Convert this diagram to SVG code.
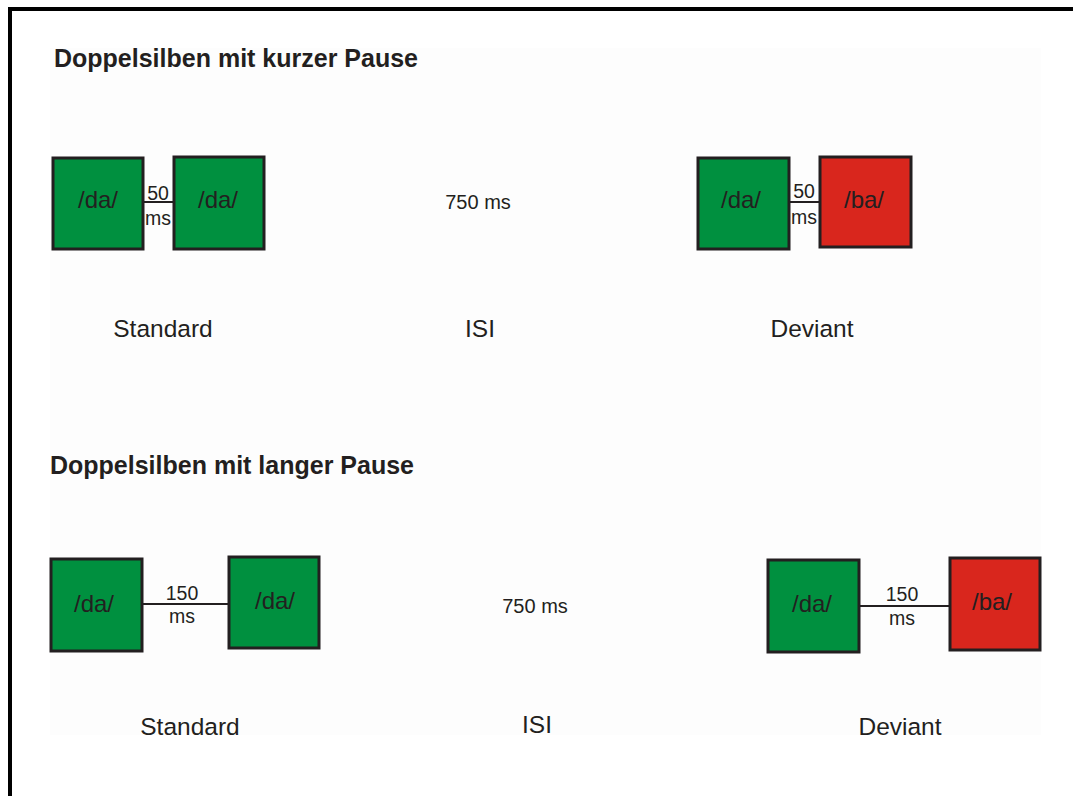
<svg xmlns="http://www.w3.org/2000/svg" width="1073" height="796" viewBox="0 0 1073 796">
  <style>
    .title { font-family: "Liberation Sans", Arial, sans-serif; font-weight: bold; font-size: 25px; fill: #231f20; }
    .syl { font-family: "Liberation Sans", Arial, sans-serif; font-size: 24px; fill: #231f20; text-anchor: middle; }
    .gap { font-family: "Liberation Sans", Arial, sans-serif; font-size: 19.5px; fill: #231f20; text-anchor: middle; }
    .isi { font-family: "Liberation Sans", Arial, sans-serif; font-size: 20px; fill: #231f20; text-anchor: middle; }
    .lab { font-family: "Liberation Sans", Arial, sans-serif; font-size: 24.5px; fill: #231f20; text-anchor: middle; }
    .std { fill: #00903f; stroke: #231f20; stroke-width: 3; }
    .dev { fill: #d9261d; stroke: #231f20; stroke-width: 3; }
    .conn { stroke: #231f20; stroke-width: 2; fill: none; }
  </style>

  <rect x="0" y="0" width="1073" height="796" fill="#ffffff"/>
  <!-- outer frame, running off the right and bottom edges -->
  <rect x="10" y="9" width="1100" height="900" fill="none" stroke="#000000" stroke-width="4"/>
  <!-- faint content panel -->
  <rect x="50" y="48" width="991" height="687" fill="#fdfdfd"/>

  <!-- headings -->
  <text class="title" x="54" y="67">Doppelsilben mit kurzer Pause</text>
  <text class="title" x="50" y="474">Doppelsilben mit langer Pause</text>

  <!-- connectors -->
  <g id="connectors">
    <line class="conn" x1="143" y1="202" x2="173" y2="202"/>
    <line class="conn" x1="789" y1="202" x2="819" y2="202"/>
    <line class="conn" x1="142" y1="604" x2="228" y2="604"/>
    <line class="conn" x1="859" y1="606" x2="949" y2="606"/>
  </g>

  <!-- short pause row -->
  <g id="short-standard-1">
    <rect class="std" x="53" y="158" width="90" height="91"/>
    <text class="syl" x="98" y="208">/da/</text>
  </g>
  <g id="short-standard-2">
    <rect class="std" x="174" y="157" width="90" height="92"/>
    <text class="syl" x="218" y="208">/da/</text>
  </g>
  <g id="short-standard-gap">
    <text class="gap" x="158" y="200">50</text>
    <text class="gap" x="158" y="225">ms</text>
  </g>
  <g id="short-isi">
    <text class="isi" x="478" y="209">750 ms</text>
  </g>
  <g id="short-deviant-1">
    <rect class="std" x="698" y="158" width="91" height="91"/>
    <text class="syl" x="741" y="208">/da/</text>
  </g>
  <g id="short-deviant-2">
    <rect class="dev" x="820" y="157" width="91" height="90"/>
    <text class="syl" x="864" y="208">/ba/</text>
  </g>
  <g id="short-deviant-gap">
    <text class="gap" x="804" y="198">50</text>
    <text class="gap" x="804" y="224">ms</text>
  </g>
  <g id="short-labels">
    <text class="lab" x="163" y="337">Standard</text>
    <text class="lab" x="480" y="337">ISI</text>
    <text class="lab" x="812" y="337">Deviant</text>
  </g>

  <!-- long pause row -->
  <g id="long-standard-1">
    <rect class="std" x="51" y="559" width="91" height="92"/>
    <text class="syl" x="94" y="612">/da/</text>
  </g>
  <g id="long-standard-2">
    <rect class="std" x="229" y="557" width="90" height="91"/>
    <text class="syl" x="275" y="609">/da/</text>
  </g>
  <g id="long-standard-gap">
    <text class="gap" x="182" y="600">150</text>
    <text class="gap" x="182" y="623">ms</text>
  </g>
  <g id="long-isi">
    <text class="isi" x="535" y="613">750 ms</text>
  </g>
  <g id="long-deviant-1">
    <rect class="std" x="768" y="560" width="91" height="92"/>
    <text class="syl" x="812" y="612">/da/</text>
  </g>
  <g id="long-deviant-2">
    <rect class="dev" x="950" y="558" width="90" height="92"/>
    <text class="syl" x="992" y="610">/ba/</text>
  </g>
  <g id="long-deviant-gap">
    <text class="gap" x="902" y="601">150</text>
    <text class="gap" x="902" y="625">ms</text>
  </g>
  <g id="long-labels">
    <text class="lab" x="190" y="735">Standard</text>
    <text class="lab" x="537" y="733">ISI</text>
    <text class="lab" x="900" y="735">Deviant</text>
  </g>
</svg>
